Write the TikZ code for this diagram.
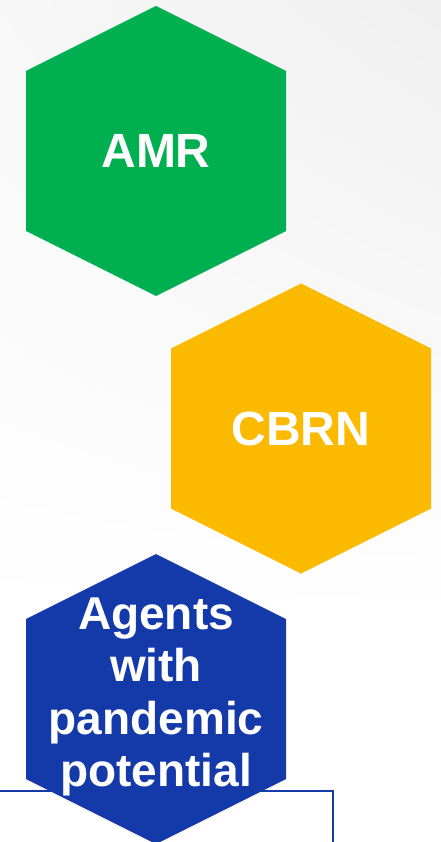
\documentclass[tikz,border=0pt]{standalone}
\usepackage{fontspec}
\setmainfont{Liberation Sans}
\usetikzlibrary{positioning,shadings}

\definecolor{amrgreen}{RGB}{0,176,80}
\definecolor{cbrnyellow}{RGB}{251,186,0}
\definecolor{agentblue}{RGB}{20,58,170}

% hexagon round a centre, 260 wide and 290 high
\newcommand{\hexcell}[1]{(#1) ++(0,-145) -- ++(130,65) -- ++(0,160) -- ++(-130,65) -- ++(-130,-65) -- ++(0,-160) -- cycle}

\tikzset{
  hexlabel/.style={text=white, font=\bfseries\fontsize{48}{56}\selectfont, align=center, inner sep=0pt},
  agentlabel/.style={hexlabel, font=\bfseries\fontsize{46}{52.5}\selectfont},
  rule/.style={draw=agentblue, line width=1.2pt}
}

\begin{document}
\begin{tikzpicture}[x=1pt,y=-1pt]
	\useasboundingbox (0,0) rectangle (441,842);
	\shade[upper left=black!3, upper right=black!6, lower left=white, lower right=white] (0,0) rectangle (441,620);

	\coordinate (amrc) at (156,151);
	\coordinate (cbrnc) at (301,428.5);
	\coordinate (agentc) at (156,699);

	\coordinate (ruleL) at (0,791);
	\coordinate (ruleC) at (333,791);
	\coordinate (ruleB) at (333,842);
	\draw[rule] (ruleL) -- (ruleC) -- (ruleB);

	\fill[amrgreen] \hexcell{amrc};
	\fill[cbrnyellow] \hexcell{cbrnc};
	\fill[agentblue] \hexcell{agentc};

	\node[hexlabel] (amr) at (amrc) {AMR};
	\node[hexlabel] (cbrn) at (cbrnc) {CBRN};
	\node[agentlabel] (agents) at (156,697) {Agents\\with\\pandemic\\potential};
\end{tikzpicture}
\end{document}
